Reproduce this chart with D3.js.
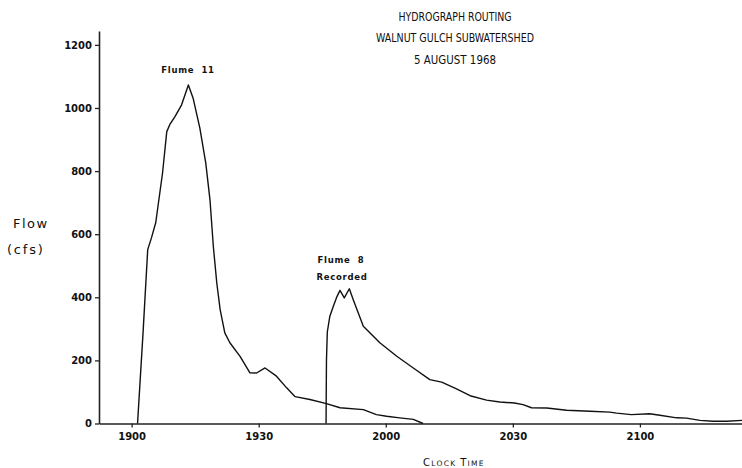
<!DOCTYPE html>
<html>
<head>
<meta charset="utf-8">
<script src="https://cdn.jsdelivr.net/npm/d3@7"></script>
<style>
  body { margin: 0; background: #fff; }
  svg { display: block; }
</style>
</head>
<body>
<svg class="hydro" width="742" height="468"></svg>
<script>
// time is minutes after 19:00, flow in cfs
const f11Time = [1.4, 2.7, 3.8, 4.7, 5.7, 7.3, 8.3, 9.0, 10.2, 11.8, 13.4, 14.5, 16.1, 17.5, 18.5, 19.3,
                 20.1, 20.9, 22.0, 23.2, 25.6, 27.9, 29.5, 31.5, 34.2, 36.6, 38.6, 42.1, 46.0, 49.2,
                 54.7, 57.8, 60.2, 63.3, 66.5, 68.8];
const f11Flow = [0, 288, 551, 589, 637, 794, 925, 947, 972, 1010, 1073, 1032, 937, 826, 709, 560,
                 446, 361, 287, 256, 213, 161, 160, 176, 150, 113, 85, 76, 63, 50,
                 44, 28, 23, 18, 13, 0];

const f8Time = [45.9, 46.0, 46.2, 46.8, 47.6, 48.5, 49.2, 50.2, 51.4, 52.3, 54.7, 58.6, 62.6, 66.5, 70.4,
                73.2, 76.7, 79.9, 83.8, 86.9, 90.4, 92.4, 94.4, 98.0, 102.7, 108.2, 112.9, 114.5,
                118.0, 122.3, 124.7, 128.7, 131.0, 134.2, 137.3, 140.5, 144.1];
const f8Flow = [0, 200, 290, 340, 371, 403, 422, 398, 427, 393, 308, 256, 213, 176, 139,
                131, 110, 88, 74, 68, 65, 60, 50, 49, 42, 39, 36, 33,
                28, 31, 26, 18, 17, 10, 7, 7, 10];

const xTicks = [0, 30, 60, 90, 120];
const xTickLabels = ['1900', '1930', '2000', '2030', '2100'];
const yTicks = [0, 200, 400, 600, 800, 1000, 1200];
const titleLines = ['HYDROGRAPH ROUTING', 'WALNUT GULCH SUBWATERSHED', '5 AUGUST 1968'];

const svg = d3.select('svg.hydro');

const x = d3.scaleLinear().domain([-7.7, 144.1]).range([99, 742]);
const y = d3.scaleLinear().domain([0, 1244]).range([423.5, 31]);

const tickFont = 'DejaVu Sans, sans-serif';

// x axis
const xAxis = svg.append('g')
  .attr('transform', `translate(0, ${y(0)})`)
  .call(d3.axisBottom(x).tickValues(xTicks).tickFormat((d, i) => xTickLabels[i])
    .tickSize(4).tickSizeOuter(0).tickPadding(5));
xAxis.select('.domain').attr('stroke', '#222').attr('stroke-width', 1.6);
xAxis.selectAll('.tick line').attr('stroke', '#222').attr('stroke-width', 1.3);
xAxis.selectAll('text')
  .style('font-family', tickFont).style('font-size', '10px').style('font-weight', 'bold').attr('fill', '#111');

// y axis
const yAxis = svg.append('g')
  .attr('transform', `translate(${x.range()[0]}, 0)`)
  .call(d3.axisLeft(y).tickValues(yTicks).tickFormat(d3.format('d'))
    .tickSize(4).tickSizeOuter(0).tickPadding(3));
yAxis.select('.domain').attr('stroke', '#222').attr('stroke-width', 1.6);
yAxis.selectAll('.tick line').attr('stroke', '#222').attr('stroke-width', 1.3);
yAxis.selectAll('text')
  .style('font-family', tickFont).style('font-size', '10px').style('font-weight', 'bold').attr('fill', '#111');

// hydrograph lines
const line = d3.line().x(d => x(d[0])).y(d => y(d[1]));
const f11 = f11Time.map((t, i) => [t, f11Flow[i]]);
const f8 = f8Time.map((t, i) => [t, f8Flow[i]]);

svg.selectAll('path.flow')
  .data([f11, f8])
  .enter()
  .append('path')
  .attr('class', 'flow')
  .attr('d', line)
  .attr('fill', 'none')
  .attr('stroke', '#111')
  .attr('stroke-width', 1.4)
  .attr('stroke-linejoin', 'round');

// curve labels
const labelStyle = {
  'font-family': tickFont, 'font-size': '8.5px', 'font-weight': 'bold',
  'letter-spacing': '0.7px', 'text-anchor': 'middle', 'fill': '#111'
};
function label(txt, px, py) {
  const t = svg.append('text').attr('x', px).attr('y', py).text(txt);
  Object.entries(labelStyle).forEach(([k, v]) => t.style(k, v));
  t.attr('xml:space', 'preserve').style('white-space', 'pre');
}
label('Flume  11', 188, 73);
label('Flume  8', 341, 263);
label('Recorded', 342, 280);

// title
svg.selectAll('text.title')
  .data(titleLines)
  .enter()
  .append('text')
  .attr('class', 'title')
  .attr('x', 455)
  .attr('y', (d, i) => [21, 42, 64][i])
  .attr('textLength', (d, i) => [113, 158, 82][i])
  .attr('lengthAdjust', 'spacingAndGlyphs')
  .text(d => d)
  .style('font-family', "'Liberation Sans Narrow', 'DejaVu Sans Condensed', sans-serif")
  .style('font-size', '12.5px')
  .style('text-anchor', 'middle')
  .style('fill', '#111');

// y axis title
svg.append('text').attr('x', 13).attr('y', 228).text('Flow')
  .style('font-family', tickFont).style('font-size', '13px').style('letter-spacing', '1.5px').style('fill', '#111');
svg.append('text').attr('x', 7).attr('y', 254).text('(cfs)')
  .style('font-family', tickFont).style('font-size', '13px').style('letter-spacing', '1.8px').style('fill', '#111');

// x axis title in small caps
const xt = svg.append('text').attr('x', 423).attr('y', 466)
  .style('font-family', tickFont).style('fill', '#111').style('letter-spacing', '1.3px');
[['C', 10], ['LOCK ', 7.5], ['T', 10], ['IME', 7.5]].forEach(([s, fs]) => {
  xt.append('tspan').text(s).style('font-size', fs + 'px').attr('xml:space', 'preserve');
});
xt.style('white-space', 'pre');
</script>
</body>
</html>
